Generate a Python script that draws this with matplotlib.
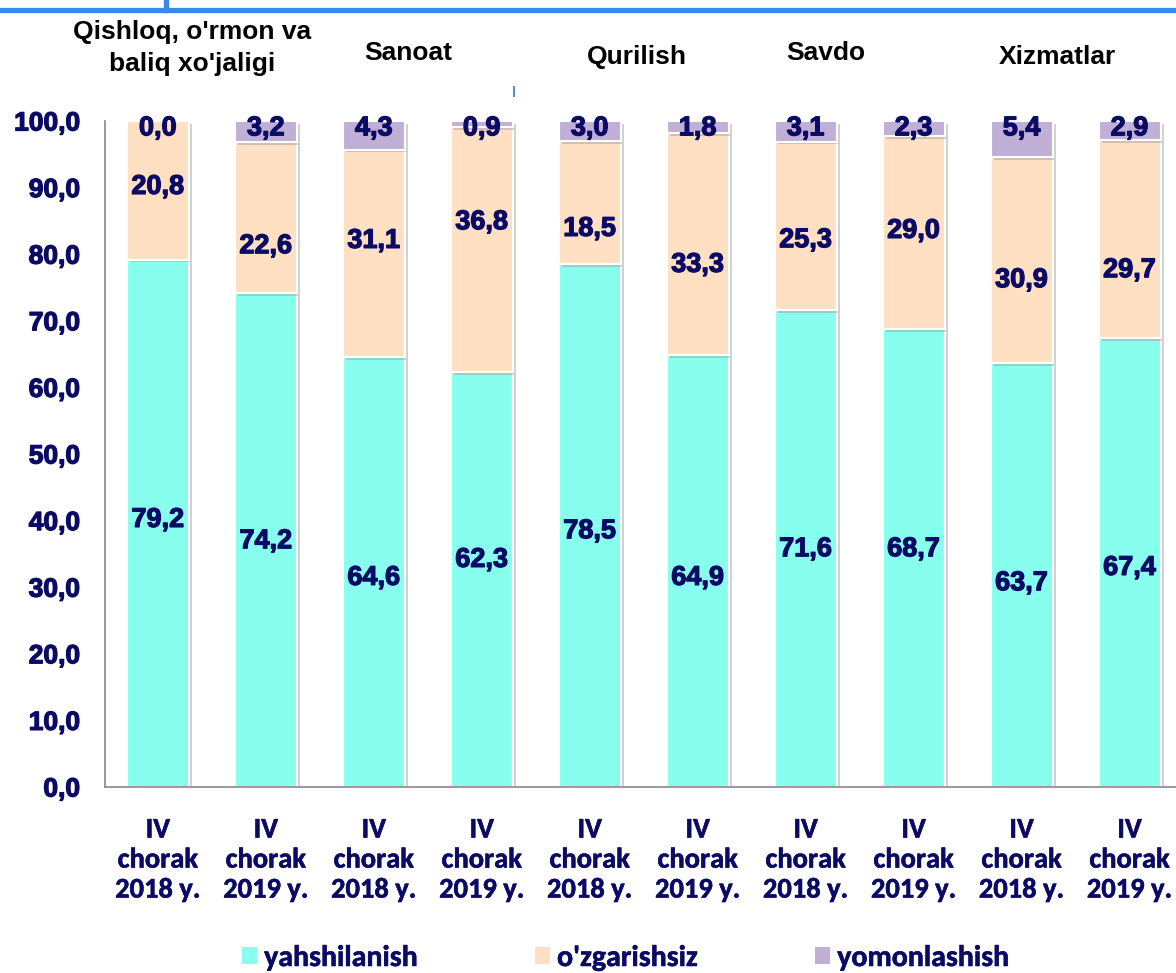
import matplotlib
matplotlib.use("Agg")
import matplotlib.pyplot as plt
import matplotlib.patheffects as pe
from matplotlib.patches import Patch
from matplotlib.lines import Line2D
from matplotlib import font_manager as fm
import numpy as np

# ---- data ----
sectors = ["Qishloq, o'rmon va\nbaliq xo'jaligi", "Sanoat", "Qurilish", "Savdo", "Xizmatlar"]
periods = ["IV\nchorak\n2018 y.", "IV\nchorak\n2019 y.",
           "IV\nchorak\n2018 y.", "IV\nchorak\n2019 y.",
           "IV\nchorak\n2018 y.", "IV\nchorak\n2019 y.",
           "IV\nchorak\n2018 y.", "IV\nchorak\n2019 y.",
           "IV\nchorak\n2018 y.", "IV\nchorak\n2019 y."]
yahshilanish = [79.2, 74.2, 64.6, 62.3, 78.5, 64.9, 71.6, 68.7, 63.7, 67.4]
ozgarishsiz = [20.8, 22.6, 31.1, 36.8, 18.5, 33.3, 25.3, 29.0, 30.9, 29.7]
yomonlashish = [0.0, 3.2, 4.3, 0.9, 3.0, 1.8, 3.1, 2.3, 5.4, 2.9]
series_names = ["yahshilanish", "o'zgarishsiz", "yomonlashish"]

# label vertical placement (data units), as in the original
lbl_y_yah = [40.1, 36.9, 31.4, 34.1, 38.4, 31.4, 35.7, 35.7, 30.6, 32.9]
lbl_y_ozg = [90.1, 81.2, 82.0, 84.8, 83.8, 78.4, 82.1, 83.5, 76.1, 77.6]
lbl_y_yom = 98.9

colors = ["#88FFEE", "#FFE0C2", "#C0AFD6"]
navy = "#0B0B66"


def pick_bold(cands):
    for f in cands:
        try:
            p = fm.findfont(fm.FontProperties(family=f, weight="bold"), fallback_to_default=False)
            if "bold" in p.lower():
                return f
        except Exception:
            pass
    return "DejaVu Sans"


cal = pick_bold(["Carlito", "Lato", "Open Sans", "Noto Sans", "Roboto"])
ari = pick_bold(["Liberation Sans", "Arial", "DejaVu Sans"])
thick = [pe.withStroke(linewidth=0.9, foreground=navy)]
thick_cal = [pe.withStroke(linewidth=0.4, foreground=navy)]

W, H = 1176, 973
fig = plt.figure(figsize=(W / 100, H / 100), dpi=100)
ax = fig.add_axes([105 / W, (H - 787) / H, 1 - 105 / W, (787 - 121) / H])

x = np.arange(len(periods))
bw = 0.575
shadow = [pe.SimplePatchShadow(offset=(2.5, -2), shadow_rgbFace="#999999", alpha=0.45), pe.Normal()]
bottom = np.zeros(len(x))
for vals, c in zip([yahshilanish, ozgarishsiz, yomonlashish], colors):
    bars = ax.bar(x, vals, bw, bottom=bottom, color=c, edgecolor="white", linewidth=1.5, zorder=2)
    for b in bars:
        b.set_path_effects(shadow)
    bottom = bottom + np.array(vals)

fmt = lambda v: f"{v:.1f}".replace(".", ",")
lab_kw = dict(ha="center", va="center", color=navy, fontsize=19.5, fontweight="bold",
              family=ari, zorder=5, path_effects=thick)
for i in range(len(x)):
    ax.text(x[i], lbl_y_yah[i], fmt(yahshilanish[i]), **lab_kw)
    ax.text(x[i], lbl_y_ozg[i], fmt(ozgarishsiz[i]), **lab_kw)
    ax.text(x[i], lbl_y_yom, fmt(yomonlashish[i]), **lab_kw)

ax.set_xlim(-0.49, 9.43)
ax.set_ylim(0, 100)
ax.set_yticks(np.arange(0, 101, 10))
ax.set_yticklabels([fmt(v) for v in np.arange(0, 101, 10)], fontsize=19, fontweight="bold",
                   color=navy, family=ari)
for t in ax.get_yticklabels():
    t.set_path_effects(thick)
ax.set_xticks(x)
ax.set_xticklabels(periods, fontsize=20.5, fontweight="bold", color=navy, family=cal,
                   linespacing=1.3)
for t in ax.get_xticklabels():
    t.set_path_effects(thick_cal)
ax.tick_params(axis="y", length=0, pad=18)
ax.tick_params(axis="x", length=0, pad=22)
for s in ["top", "right"]:
    ax.spines[s].set_visible(False)
for s in ["left", "bottom"]:
    ax.spines[s].set_color("#888888")
    ax.spines[s].set_linewidth(1.2)

# sector headers
hdr_kw = dict(ha="center", va="center", color="black", fontsize=19, fontweight="bold",
              family=ari, linespacing=1.4)
hdr_pos = [(192, 48), (408, 53), (637, 57), (826, 53), (1057, 57)]
for name, (px, py) in zip(sectors, hdr_pos):
    fig.text(px / W, 1 - py / H, name, **hdr_kw)

# decorative top lines
fig.add_artist(Line2D([0, 1], [1 - 10 / H, 1 - 10 / H], color="#3C86EE", lw=3.8))
fig.add_artist(Line2D([166 / W, 166 / W], [1 - 10 / H, 1], color="#3C86EE", lw=3.8))
fig.add_artist(Line2D([514 / W, 514 / W], [1 - 87 / H, 1 - 96 / H], color="#5A8FD8", lw=1.5))

# legend
handles = [Patch(facecolor=c, edgecolor="none") for c in colors]
leg = fig.legend(handles, series_names, loc="center", bbox_to_anchor=(625.5 / W, 1 - 958 / H),
                 ncol=3, frameon=False, handlelength=0.48, handleheight=0.48, handletextpad=0.25,
                 columnspacing=3.95, prop=dict(family=cal, weight="bold", size=21.5))
for t in leg.get_texts():
    t.set_color(navy)
    t.set_path_effects(thick_cal)

fig.savefig("out.png", dpi=100)
